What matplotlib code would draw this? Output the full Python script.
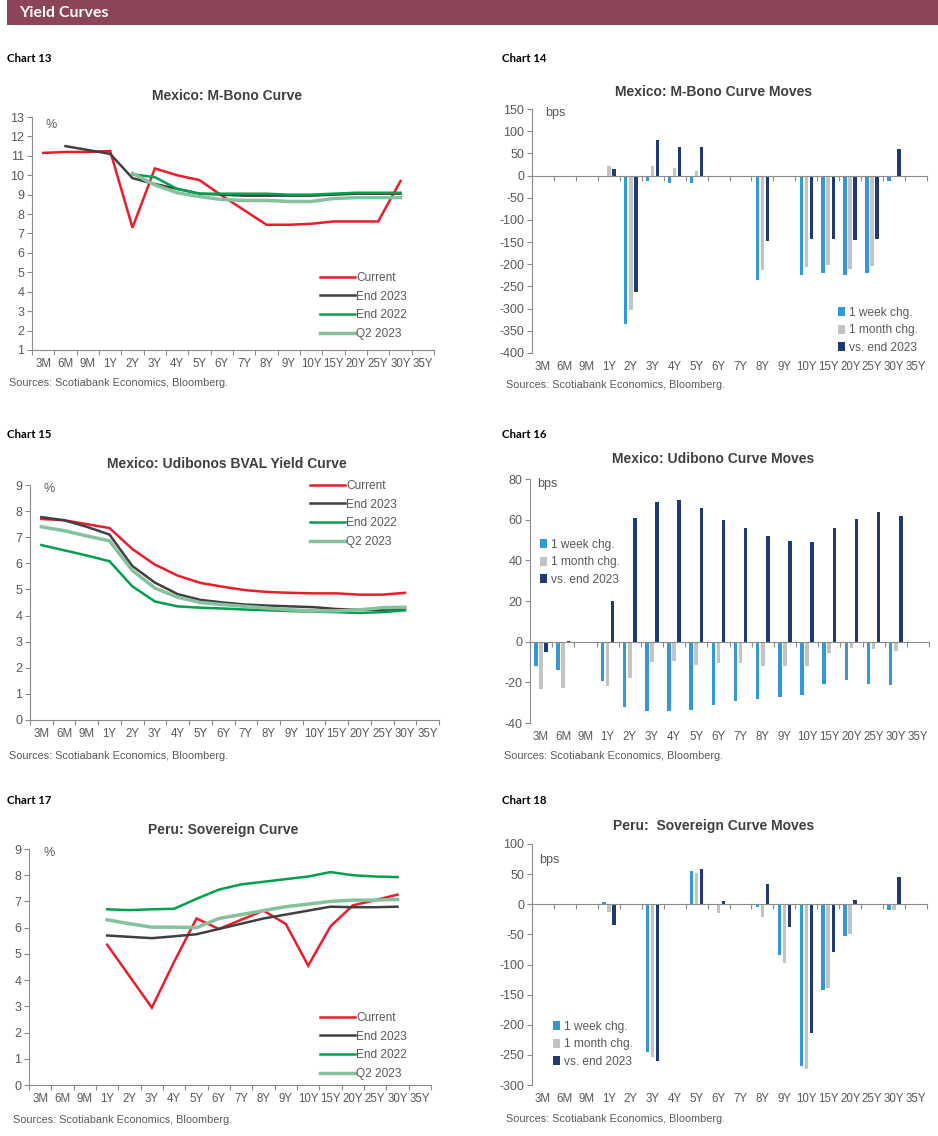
import numpy as np
import matplotlib
matplotlib.use("Agg")
import matplotlib.pyplot as plt
from matplotlib.patches import Rectangle

plt.rcParams['font.family'] = ['Liberation Sans', 'DejaVu Sans']
plt.rcParams['axes.unicode_minus'] = False

W, H = 938, 1136
nan = np.nan

tenors = ["3M", "6M", "9M", "1Y", "2Y", "3Y", "4Y", "5Y", "6Y", "7Y", "8Y", "9Y",
          "10Y", "15Y", "20Y", "25Y", "30Y", "35Y"]

line_labels = ["Current", "End 2023", "End 2022", "Q2 2023"]
bar_labels = ["1 week chg.", "1 month chg.", "vs. end 2023"]

# Chart 13: Mexico M-Bono curve (%)
mbono_current = [11.15, 11.2, 11.2, 11.25, 7.3, 10.35, 10.0, 9.75, 8.95, 8.2, 7.45, 7.45,
                 7.5, 7.62, 7.62, 7.62, 9.7, nan]
mbono_end2023 = [nan, 11.5, 11.3, 11.1, 9.85, 9.55, 9.3, 9.05, 9.0, 8.95, 8.95, 8.95,
                 8.95, 9.0, 9.05, 9.05, 9.05, nan]
mbono_end2022 = [nan, nan, nan, nan, 10.05, 9.9, 9.3, 9.05, 9.05, 9.05, 9.05, 9.0,
                 9.0, 9.05, 9.1, 9.1, 9.1, nan]
mbono_q22023 = [nan, nan, nan, nan, 10.1, 9.5, 9.1, 8.9, 8.75, 8.7, 8.7, 8.65,
                8.65, 8.8, 8.85, 8.85, 8.85, nan]

# Chart 14: Mexico M-Bono curve moves (bps)
mbono_1w = [0, 0, 0, 0, -335, -13, -17, -17, 0, 0, -235, 0, -225, -220, -225, -220, -12, nan]
mbono_1m = [0, 0, 0, 21, -303, 21, 17, 10, 0, 0, -214, 0, -207, -202, -210, -205, 0, nan]
mbono_ve = [0, 0, 0, 14, -262, 79, 64, 65, 0, 0, -147, 0, -142, -142, -146, -142, 60, nan]

# Chart 15: Mexico Udibonos BVAL yield curve (%)
udi_current = [7.7, 7.65, 7.5, 7.35, 6.55, 5.95, 5.53, 5.25, 5.1, 4.97, 4.9, 4.87,
               4.85, 4.85, 4.8, 4.8, 4.87, nan]
udi_end2023 = [7.77, 7.65, 7.4, 7.1, 5.9, 5.26, 4.82, 4.6, 4.5, 4.42, 4.38, 4.35,
               4.32, 4.25, 4.22, 4.22, 4.25, nan]
udi_end2022 = [6.7, 6.5, 6.3, 6.08, 5.12, 4.54, 4.35, 4.3, 4.27, 4.23, 4.2, 4.17,
               4.15, 4.13, 4.1, 4.13, 4.2, nan]
udi_q22023 = [7.4, 7.25, 7.05, 6.86, 5.73, 5.05, 4.7, 4.5, 4.42, 4.35, 4.28, 4.22,
              4.18, 4.18, 4.22, 4.3, 4.32, nan]

# Chart 16: Mexico Udibono curve moves (bps)
udi_1w = [-12, -14, 0, -19.5, -32, -34, -34, -33.5, -31, -29, -28, -27, -26, -21, -19, -21, -21.5, nan]
udi_1m = [-23.5, -23, 0, -22, -18, -10, -9.5, -11.5, -10.5, -10.5, -12, -12, -12, -5.5, -3, -3.5, -4.5, nan]
udi_ve = [-5, 0.3, 0, 20, 61, 68.5, 69.5, 65.5, 59.8, 55.7, 52, 49.6, 49.2, 56, 60.2, 63.8, 61.8, nan]

# Chart 17: Peru sovereign curve (%)
peru_current = [nan, nan, nan, 5.35, 4.15, 2.95, 4.7, 6.35, 5.95, 6.3, 6.65, 6.14,
                4.55, 6.05, 6.85, 7.05, 7.26, nan]
peru_end2023 = [nan, nan, nan, 5.7, 5.65, 5.6, 5.67, 5.75, 5.95, 6.15, 6.35, 6.5,
                6.65, 6.8, 6.78, 6.78, 6.8, nan]
peru_end2022 = [nan, nan, nan, 6.7, 6.67, 6.7, 6.72, 7.1, 7.45, 7.65, 7.75, 7.85,
                7.95, 8.12, 8.0, 7.95, 7.93, nan]
peru_q22023 = [nan, nan, nan, 6.3, 6.15, 6.02, 6.02, 6.0, 6.35, 6.5, 6.65, 6.8,
               6.9, 7.0, 7.05, 7.05, 7.08, nan]

# Chart 18: Peru sovereign curve moves (bps)
peru_1w = [0, 0, 0, 3, 0, -245, 0, 55, 0, 0, -5, -84, -268, -142, -53, 0, -10, nan]
peru_1m = [0, 0, 0, -13, 0, -253, 0, 52, -15, 0, -21, -97, -273, -139, -49, 0, -9, nan]
peru_ve = [0, 0, 0, -35, 0, -260, 0, 59, 5, 0, 34, -38, -214, -79, 7, 0, 45, nan]

LINE_COLORS = ["#EC1C2A", "#404040", "#00A04E", "#86C19E"]
LINE_WIDTHS = [1.8, 1.8, 1.8, 2.5]
BAR_COLORS = ["#3399D6", "#C3C3C3", "#1E3C73"]
AXIS_COLOR = "#8C8C8C"
TICK_COLOR = "#595959"
TITLE_COLOR = "#404040"

fig = plt.figure(figsize=(W / 100, H / 100), dpi=100)
fig.patch.set_facecolor("white")


def px_axes(left, top, right, bottom):
    return fig.add_axes([left / W, 1 - bottom / H, (right - left) / W, (bottom - top) / H])


def ftext(x, y, s, **kw):
    fig.text(x / W, 1 - y / H, s, **kw)


def style_common(ax, ymin, ymax, ystep):
    ax.set_xlim(-0.5, len(tenors) - 0.5)
    ax.set_ylim(ymin, ymax)
    yt = np.arange(ymin, ymax + ystep / 2, ystep)
    ax.set_yticks(yt)
    ax.set_yticklabels([f"{int(v)}" for v in yt])
    for s in ["top", "right"]:
        ax.spines[s].set_visible(False)
    ax.spines["left"].set_color(AXIS_COLOR)
    ax.spines["left"].set_linewidth(0.8)
    ax.tick_params(axis="y", direction="out", length=3.5, width=0.8, color=AXIS_COLOR,
                   labelsize=9, labelcolor=TICK_COLOR, pad=2)
    ax.set_facecolor("none")


def line_chart(box, title, title_xy, series, ymin, ymax, leg_xy, pct_xy):
    ax = px_axes(*box)
    style_common(ax, ymin, ymax, 1)
    x = np.arange(len(tenors))
    for vals, lab, c, lw in zip(series, line_labels, LINE_COLORS, LINE_WIDTHS):
        ax.plot(x, vals, color=c, lw=lw, label=lab, solid_joinstyle="miter")
    ax.spines["bottom"].set_color(AXIS_COLOR)
    ax.spines["bottom"].set_linewidth(0.8)
    ax.set_xticks(x)
    ax.set_xticklabels(tenors)
    ax.set_xticks(np.arange(-0.5, len(tenors)), minor=True)
    ax.tick_params(axis="x", which="major", length=0, labelsize=8.3, labelcolor=TICK_COLOR, pad=6)
    ax.tick_params(axis="x", which="minor", direction="out", length=3.5, width=0.8, color=AXIS_COLOR)
    ftext(*title_xy, title, ha="center", va="center", fontsize=10, fontweight="bold", color=TITLE_COLOR)
    ftext(*pct_xy, "%", ha="center", va="center", fontsize=9, color=TICK_COLOR)
    ax.legend(loc="upper left", bbox_to_anchor=(leg_xy[0] / W, 1 - leg_xy[1] / H),
              bbox_transform=fig.transFigure, frameon=False, fontsize=8.6,
              handlelength=2.9, handletextpad=0.15, labelspacing=0.55,
              borderpad=0, borderaxespad=0, labelcolor=TICK_COLOR)
    return ax


def bar_chart(box, title, title_xy, series, ymin, ymax, ystep, leg_xy, bps_xy):
    ax = px_axes(*box)
    style_common(ax, ymin, ymax, ystep)
    x = np.arange(len(tenors))
    offs = [-0.23, 0.0, 0.23]
    for vals, lab, c, o in zip(series, bar_labels, BAR_COLORS, offs):
        ax.bar(x + o, vals, width=0.16, color=c, label=lab, linewidth=0)
    # zero axis with category boundary ticks
    ax.spines["bottom"].set_position(("data", 0))
    ax.spines["bottom"].set_color(AXIS_COLOR)
    ax.spines["bottom"].set_linewidth(0.8)
    ax.set_xticks(np.arange(-0.5, len(tenors)))
    ax.tick_params(axis="x", which="major", direction="out", length=3.5, width=0.8,
                   color=AXIS_COLOR, labelbottom=False)
    sec = ax.secondary_xaxis(0)
    sec.set_xticks(x)
    sec.set_xticklabels(tenors)
    sec.tick_params(axis="x", length=0, labelsize=8.3, labelcolor=TICK_COLOR, pad=6)
    sec.spines["bottom"].set_visible(False)
    ftext(*title_xy, title, ha="center", va="center", fontsize=10, fontweight="bold", color=TITLE_COLOR)
    ftext(*bps_xy, "bps", ha="left", va="center", fontsize=9, color=TICK_COLOR)
    ax.legend(loc="upper left", bbox_to_anchor=(leg_xy[0] / W, 1 - leg_xy[1] / H),
              bbox_transform=fig.transFigure, frameon=False, fontsize=8.6,
              handlelength=0.55, handleheight=0.8, handletextpad=0.35, labelspacing=0.45,
              borderpad=0, borderaxespad=0, labelcolor=TICK_COLOR)
    return ax


# Header
fig.patches.append(Rectangle((7 / W, 1 - 25 / H), (W - 7) / W, 25 / H,
                             transform=fig.transFigure, facecolor="#8C4458", edgecolor="none"))
ftext(19, 13, "Yield Curves", ha="left", va="center", fontsize=11.5, fontweight="bold",
      color="white", family=["Lato", "DejaVu Sans"])

chart_font = dict(fontsize=8.2, fontweight="bold", color="black", family=["Lato", "DejaVu Sans"],
                  ha="left", va="center")
ftext(7, 59, "Chart 13", **chart_font)
ftext(502, 59, "Chart 14", **chart_font)
ftext(7, 434, "Chart 15", **chart_font)
ftext(502, 434, "Chart 16", **chart_font)
ftext(7, 800, "Chart 17", **chart_font)
ftext(502, 800, "Chart 18", **chart_font)

src = "Sources: Scotiabank Economics, Bloomberg."
src_font = dict(fontsize=7.8, color=TICK_COLOR, ha="left", va="center")
ftext(9, 383, src, **src_font)
ftext(506, 385, src, **src_font)
ftext(9, 756, src, **src_font)
ftext(504, 756, src, **src_font)
ftext(13, 1120, src, **src_font)
ftext(506, 1119, src, **src_font)

# Chart 13
line_chart((32, 117, 434, 350), "Mexico: M-Bono Curve", (227, 96),
           [mbono_current, mbono_end2023, mbono_end2022, mbono_q22023], 1, 13,
           (320, 272), (51, 125))
# Chart 14
bar_chart((532, 109, 927, 353), "Mexico: M-Bono Curve Moves", (714, 92),
          [mbono_1w, mbono_1m, mbono_ve], -400, 150, 50, (838, 307), (545, 113))
# Chart 15
line_chart((30, 485, 439, 720), "Mexico: Udibonos BVAL Yield Curve", (227, 464),
           [udi_current, udi_end2023, udi_end2022, udi_q22023], 0, 9,
           (310, 480), (49, 489))
# Chart 16
bar_chart((530, 479, 929, 723), "Mexico: Udibono Curve Moves", (713, 459),
          [udi_1w, udi_1m, udi_ve], -40, 80, 20, (540, 539), (537, 484))
# Chart 17
line_chart((29, 849, 431, 1085), "Peru: Sovereign Curve", (223, 830),
           [peru_current, peru_end2023, peru_end2022, peru_q22023], 0, 9,
           (320, 1012), (49, 853))
# Chart 18
bar_chart((532, 844, 927, 1085), "Peru:  Sovereign Curve Moves", (714, 826),
          [peru_1w, peru_1m, peru_ve], -300, 100, 50, (553, 1021), (539, 860))

fig.savefig("out.png", dpi=100, facecolor="white")
